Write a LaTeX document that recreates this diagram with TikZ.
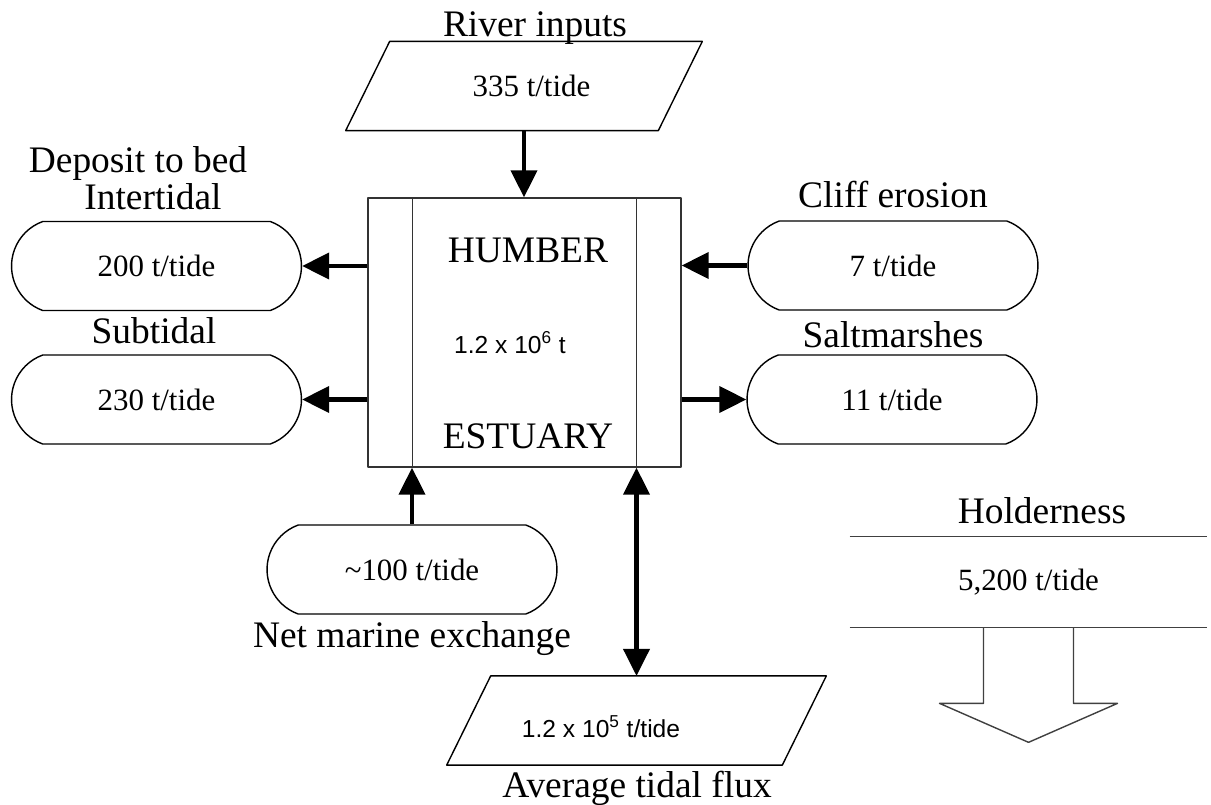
\documentclass[tikz,border=0pt]{standalone}
\usepackage{fontspec}
\setmainfont{Liberation Serif}
\newfontfamily\arialfont{Liberation Sans}
\usetikzlibrary{shapes.misc,arrows.meta}

\tikzset{
	lbl/.style={font=\fontsize{21.3pt}{24pt}\selectfont, anchor=base, inner sep=0pt},
	valsans/.style={font=\arialfont\fontsize{14pt}{16pt}\selectfont, anchor=base, inner sep=0pt},
	pill/.style={draw, rounded rectangle, rounded rectangle arc length=140, line width=0.8pt,
		minimum width=5.8cm, minimum height=1.78cm, inner sep=0pt,
		font=\fontsize{17.6pt}{20pt}\selectfont},
	parabox/.style={minimum height=1.77cm, inner sep=0pt, font=\fontsize{17.6pt}{20pt}\selectfont},
	flow/.style={line width=2.3pt, -{Triangle[length=0.54cm, width=0.52cm]}},
	flux2/.style={line width=2.3pt, {Triangle[length=0.54cm, width=0.52cm]}-{Triangle[length=0.54cm, width=0.52cm]}}
}

\begin{document}
\begin{tikzpicture}[x=0.02cm, y=-0.02cm, line join=round]
	\useasboundingbox (0,0) rectangle (1211,805);
	% central box
	\node[draw=black!80, line width=0.8pt, minimum width=6.26cm, minimum height=5.38cm, inner sep=0pt] (hum) at (524.5,332.5) {};
	\draw[black!80, line width=0.8pt] ([xshift=0.9cm]hum.north west) -- ([xshift=0.9cm]hum.south west);
	\draw[black!80, line width=0.8pt] ([xshift=-0.9cm]hum.north east) -- ([xshift=-0.9cm]hum.south east);
	\node[lbl] (humt) at (528,262) {HUMBER};
	\node[valsans] (humv) at (510,353) {1.2 x 10\textsuperscript{6} t};
	\node[lbl] (estt) at (528,448) {ESTUARY};

	% river inputs
	\node[parabox, minimum width=6.24cm] (river) at (524,86) {\hspace{0.3cm}335 t/tide};
	\draw[line width=0.8pt] ([xshift=0.44cm]river.north west) -- ([xshift=0.44cm]river.north east)
		-- ([xshift=-0.44cm]river.south east) -- ([xshift=-0.44cm]river.south west) -- cycle;
	\node[lbl] (rivert) at (535,36) {River inputs};

	% deposits
	\node[pill] (dep) at (156.5,266) {200 t/tide};
	\node[lbl] (dept) at (138,172) {Deposit to bed};
	\node[lbl] (intt) at (153,209) {Intertidal};
	\node[pill] (sub) at (156.5,399.5) {230 t/tide};
	\node[lbl] (subt) at (154,343) {Subtidal};

	% cliff erosion, saltmarshes
	\node[pill] (cliff) at (893,265.5) {7 t/tide};
	\node[lbl] (clifft) at (893,207) {Cliff erosion};
	\node[pill] (salt) at (892,399.5) {11 t/tide};
	\node[lbl] (saltt) at (893,347) {Saltmarshes};

	% marine exchange
	\node[pill] (marine) at (412,569.5) {\textasciitilde100 t/tide};
	\node[lbl] (marinet) at (412,647) {Net marine exchange};

	% tidal flux
	\node[parabox, minimum width=6.7cm] (flux) at (636.5,720.5) {};
	\draw[line width=0.8pt] ([xshift=0.44cm]flux.north west) -- ([xshift=0.44cm]flux.north east)
		-- ([xshift=-0.44cm]flux.south east) -- ([xshift=-0.44cm]flux.south west) -- cycle;
	\node[valsans] (fluxv) at (601,737) {1.2 x 10\textsuperscript{5} t/tide};
	\node[lbl] (fluxt) at (637,797) {Average tidal flux};

	% Holderness
	\node[minimum width=7.14cm, minimum height=1.8cm, inner sep=0pt,
		font=\fontsize{17.6pt}{20pt}\selectfont] (hold) at (1028.5,582) {5,200 t/tide};
	\draw[black!75, line width=0.8pt] (hold.north west) -- (hold.north east);
	\draw[black!75, line width=0.8pt] (hold.south west) -- (hold.south east);
	\node[lbl] (holdt) at (1042,523) {Holderness};
	\draw[black!75, line width=0.8pt] ([xshift=-0.9cm]hold.south) -- ++(0,76) -- ++(-44,0) -- ++(89,39)
		-- ++(89,-39) -- ++(-44,0) -- ++(0,-76);

	% fluxes
	\draw[flow] (river.south) -- (river.south |- hum.north);
	\draw[flow] (hum.west |- dep.east) -- (dep.east);
	\draw[flow] (hum.west |- sub.east) -- (sub.east);
	\draw[flow] (cliff.west) -- (cliff.west -| hum.east);
	\draw[flow] (hum.east |- salt.west) -- (salt.west);
	\draw[flow] (marine.north) -- (marine.north |- hum.south);
	\draw[flux2] (flux.north) -- (flux.north |- hum.south);
\end{tikzpicture}
\end{document}
